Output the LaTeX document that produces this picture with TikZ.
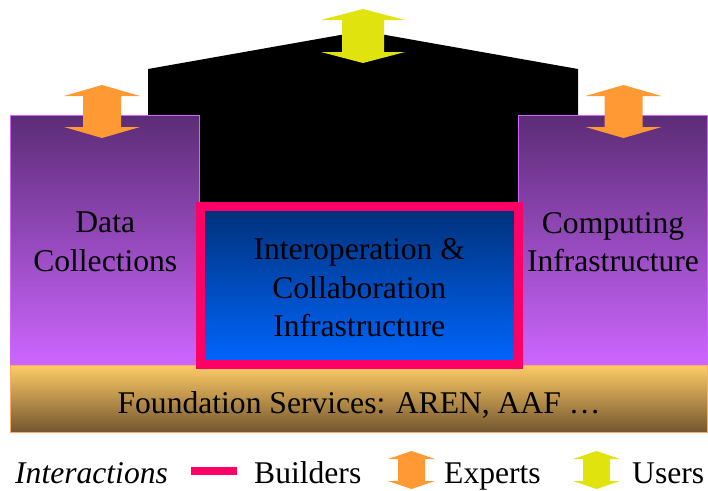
\documentclass[tikz,border=0pt]{standalone}
\usepackage{fontspec}
\setmainfont{Liberation Serif}
\definecolor{purptop}{HTML}{5C2C76}
\definecolor{purpbot}{HTML}{CC66FF}
\definecolor{bluetop}{HTML}{003078}
\definecolor{bluebot}{HTML}{0066FF}
\definecolor{builderpink}{HTML}{FF0066}
\definecolor{expertorange}{HTML}{FF9933}
\definecolor{useryellow}{HTML}{E0E30E}
\definecolor{foundtop}{HTML}{FFCC66}
\definecolor{foundbot}{HTML}{735630}
\definecolor{foundedge}{HTML}{FFAA66}
\newcommand{\mydarrow}[7]{%
  \fill[#1] (#2,#3) -- ({#2+#5},{#3+#7}) -- ({#2+#6},{#3+#7}) -- ({#2+#6},{#4-#7})
    -- ({#2+#5},{#4-#7}) -- (#2,#4) -- ({#2-#5},{#4-#7}) -- ({#2-#6},{#4-#7})
    -- ({#2-#6},{#3+#7}) -- ({#2-#5},{#3+#7}) -- cycle;}
\tikzset{
  bigfont/.style={font=\fontsize{31.6}{38.5}\selectfont},
  sidebox/.style={rectangle, inner sep=0pt, draw=purpbot, line width=1pt,
    top color=purptop, bottom color=purpbot, minimum width=189pt, minimum height=250pt},
  corebox/.style={rectangle, inner sep=0pt, draw=builderpink, line width=8.5pt,
    top color=bluetop, bottom color=bluebot, minimum width=318pt, minimum height=158pt},
  foundbox/.style={rectangle, inner sep=0pt, draw=foundedge, line width=1pt,
    top color=foundtop, bottom color=foundbot, minimum width=697pt, minimum height=67pt},
  boxtext/.style={inner sep=0pt, align=center, bigfont},
  legtext/.style={anchor=base west, inner sep=0pt, bigfont},
}
\begin{document}
\begin{tikzpicture}[x=1pt, y=-1pt]
\useasboundingbox (0,0) rectangle (708,490);
% black roof structure
\fill[black] (148,69) -- (363,31) -- (578,69) -- (578,206) -- (148,206) -- cycle;
% side boxes
\node[sidebox] (data) at (105.25,240) {};
\node[sidebox] (comp) at (613,240) {};
\node[boxtext] (datatxt) at ([yshift=-2pt]data.center) {Data\\Collections};
\node[boxtext] (comptxt) at ([yshift=-2pt]comp.center) {Computing\\Infrastructure};
% foundation
\node[foundbox] (found) at (359,398.5) {};
\node[boxtext] (foundtxt) at ([yshift=-6pt]found.center) {Foundation Services: AREN, AAF …};
% core box
\node[corebox] (core) at (359.25,285.25) {};
\node[boxtext] (coretxt) at ([yshift=-2.5pt]core.center) {Interoperation \&\\Collaboration\\Infrastructure};
% arrows
\mydarrow{useryellow}{363}{9}{63}{42}{21}{11}
\mydarrow{expertorange}{102}{85}{138}{38}{19}{11}
\mydarrow{expertorange}{623.5}{85}{138}{38}{19}{11}
% legend
\node[legtext] (inter) at (15,483) {\itshape Interactions};
\node[fill=builderpink, inner sep=0pt, minimum width=46pt, minimum height=8pt] (bsw) at (214,471) {};
\node[legtext] (build) at (254,483) {Builders};
\mydarrow{expertorange}{411.5}{451}{489}{23.5}{13.5}{8}
\node[legtext] (exp) at (444,483) {Experts};
\mydarrow{useryellow}{596.5}{451}{489}{23.5}{13.5}{8}
\node[legtext] (usr) at (632,483) {Users};
\end{tikzpicture}
\end{document}
